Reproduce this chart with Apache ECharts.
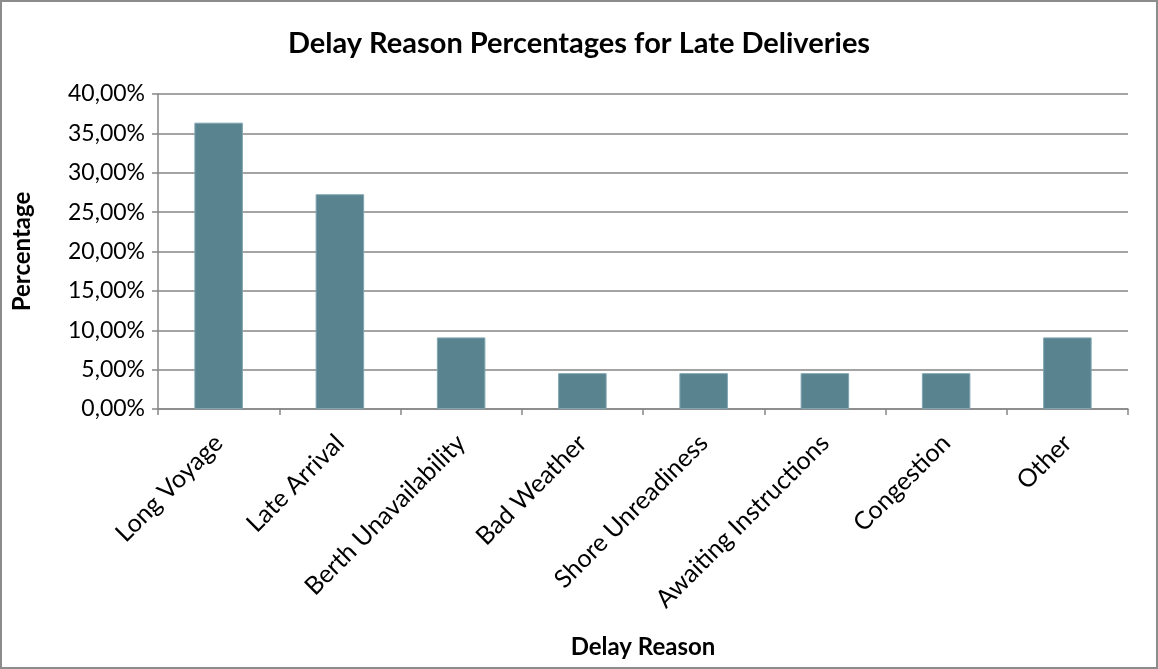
<!DOCTYPE html>
<html>
<head>
<meta charset="utf-8">
<script src="https://cdn.jsdelivr.net/npm/echarts@6/dist/echarts.min.js"></script>
<style>
  html, body { margin: 0; padding: 0; background: #fff; }
  #frame { position: absolute; left: 0; top: 0; width: 1154px; height: 665px; border: 2px solid #8c8c8c; background: #fff; }
  #chart { width: 1154px; height: 665px; }
</style>
</head>
<body>
<div id="frame"><div id="chart"></div></div>
<script>
// Share of late deliveries by delay reason (%)
const reasons = ['Long Voyage', 'Late Arrival', 'Berth Unavailability', 'Bad Weather',
  'Shore Unreadiness', 'Awaiting Instructions', 'Congestion', 'Other'];
const percentages = [36.36, 27.27, 9.09, 4.55, 4.55, 4.55, 4.55, 9.09];
const yTicks = [0, 5, 10, 15, 20, 25, 30, 35, 40];

const fontFamily = 'Lato, "Open Sans", sans-serif';
const chart = echarts.init(document.getElementById('chart'), null, { renderer: 'canvas' });

chart.setOption({
  animation: false,
  title: {
    text: 'Delay Reason Percentages for Late Deliveries',
    left: 'center',
    top: 22,
    textStyle: { fontFamily, fontSize: 29, fontWeight: 'bold', color: '#000' }
  },
  grid: { left: 153, right: 28, top: 92, bottom: 258, containLabel: false },
  xAxis: {
    type: 'category',
    data: reasons,
    name: 'Delay Reason',
    nameLocation: 'middle',
    nameGap: 226,
    nameTextStyle: { fontFamily, fontSize: 24, fontWeight: 'bold', color: '#000' },
    axisLine: { lineStyle: { color: '#868686', width: 1.5 } },
    axisTick: { show: true, alignWithLabel: false, length: 6, lineStyle: { color: '#868686', width: 1.5 } },
    axisLabel: { rotate: 45, margin: 30, fontFamily, fontSize: 25, color: '#000', interval: 0 }
  },
  yAxis: {
    type: 'value',
    min: yTicks[0],
    max: yTicks[yTicks.length - 1],
    interval: yTicks[1] - yTicks[0],
    name: 'Percentage',
    nameLocation: 'middle',
    nameGap: 124,
    nameRotate: 90,
    nameTextStyle: { fontFamily, fontSize: 24, fontWeight: 'bold', color: '#000' },
    axisLine: { show: true, lineStyle: { color: '#868686', width: 1.5 } },
    axisTick: { show: true, length: 6, lineStyle: { color: '#868686', width: 1.5 } },
    splitLine: { lineStyle: { color: '#868686', width: 1.5 } },
    axisLabel: {
      margin: 13, fontFamily, fontSize: 23, color: '#000',
      formatter: v => v.toFixed(2).replace('.', ',') + '%'
    }
  },
  series: [{
    type: 'bar',
    data: percentages,
    barCategoryGap: '60%',
    itemStyle: { color: '#5a8390', borderColor: '#7fa5b0', borderWidth: 1 }
  }]
});
</script>
</body>
</html>
